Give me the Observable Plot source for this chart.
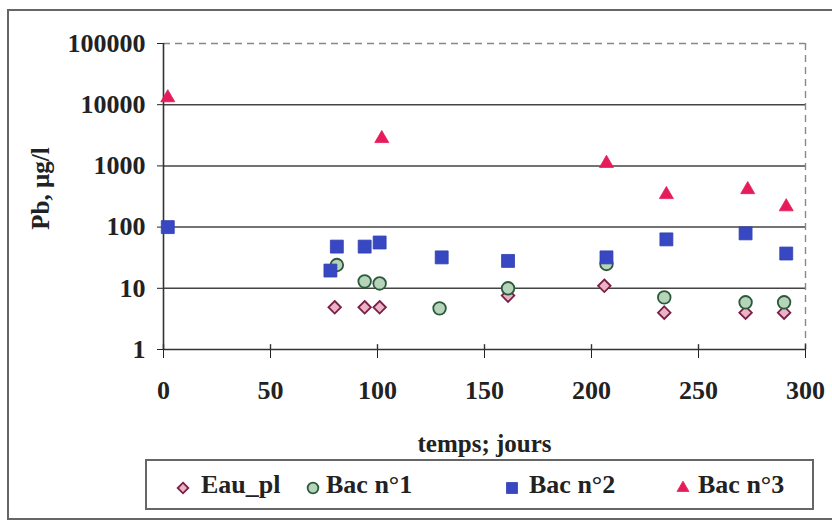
<!DOCTYPE html>
<html>
<head>
<meta charset="utf-8">
<script src="https://cdn.jsdelivr.net/npm/d3@7"></script>
<script src="https://cdn.jsdelivr.net/npm/@observablehq/plot@0.6"></script>
<style>
  html, body { margin: 0; padding: 0; background: #fff; }
  #wrap { position: relative; width: 832px; height: 527px; overflow: hidden; font-family: "Liberation Serif", "Times New Roman", serif; font-weight: bold; color: #222; }
  #frame { position: absolute; left: 7px; top: 9px; width: 840px; height: 511px; border: 2px solid #666; box-sizing: border-box; }
  #legend { position: absolute; left: 145px; top: 459px; width: 669px; height: 51px; border: 2px solid #666; box-sizing: border-box; background: #fff; }
  .item { position: absolute; top: 471px; font-size: 26px; line-height: 28px; white-space: nowrap; }
  .sw { position: absolute; }
  #chart { position: absolute; left: 0; top: 0; }
</style>
</head>
<body>
<div id="wrap">
  <div id="frame"></div>
  <div id="chart"></div>
  <div id="legend"></div>
</div>
<script>
// ---- data ----
const seriesNames = ["Eau_pl", "Bac n°1", "Bac n°2", "Bac n°3"];
const xLabel = "temps; jours";
const yLabel = "Pb, µg/l";

const daysEau = [80, 94, 101, 161, 206, 234, 272, 290];
const valEau  = [4.9, 4.9, 4.9, 7.6, 11, 4.0, 4.0, 4.0];

const daysBac1 = [81, 94, 101, 129, 161, 207, 234, 272, 290];
const valBac1  = [24, 13, 12, 4.7, 10, 25, 7.1, 5.9, 5.9];

const daysBac2 = [2, 78, 81, 94, 101, 130, 161, 207, 235, 272, 291];
const valBac2  = [100, 19.5, 48, 48, 56, 32, 28, 32, 63, 79, 37];

const daysBac3 = [2, 102, 207, 235, 273, 291];
const valBac3  = [13000, 2800, 1100, 340, 410, 215];

const xTicks = [0, 50, 100, 150, 200, 250, 300];
const yTicks = [1, 10, 100, 1000, 10000, 100000];
const yGrid  = [10, 100, 1000, 10000];

// ---- styles ----
const diamond = {
  draw(ctx, size) {
    const s = Math.sqrt(size / 2);
    ctx.moveTo(0, -s); ctx.lineTo(s, 0); ctx.lineTo(0, s); ctx.lineTo(-s, 0); ctx.closePath();
  }
};
const styles = [
  {symbol: diamond, fill: "#eab3c6", stroke: "#7a1f45", strokeWidth: 1.8, r: 5.0},
  {symbol: "circle", fill: "#b6d4ba", stroke: "#2b5a3a", strokeWidth: 1.8, r: 6.3},
  {symbol: "square", fill: "#3848c2", stroke: "#3040b0", strokeWidth: 0.8, r: 7.3},
  {symbol: "triangle", fill: "#e61c5a", stroke: "#e61c5a", strokeWidth: 0.8, r: 5.2}
];

const toRows = (days, vals) => days.map((d, i) => ({x: d, y: vals[i]}));
const rows = [toRows(daysEau, valEau), toRows(daysBac1, valBac1), toRows(daysBac2, valBac2), toRows(daysBac3, valBac3)];

const font = "'Liberation Serif', 'Times New Roman', serif";
const chart = Plot.plot({
  width: 832,
  height: 456,
  marginLeft: 163,
  marginRight: 27,
  marginTop: 43,
  marginBottom: 107,
  style: {fontFamily: font, fontSize: "26px", fontWeight: "bold", background: "transparent", color: "#222", overflow: "visible"},
  x: {domain: [0, 300], ticks: xTicks, tickSize: 9, tickPadding: 22, label: null},
  y: {type: "log", domain: [1, 100000], ticks: yTicks, tickFormat: d => String(d), tickSize: 6, tickPadding: 12, label: null},
  marks: [
    Plot.ruleY(yGrid, {stroke: "#444", strokeWidth: 1.5}),
    Plot.ruleY([100000], {stroke: "#888", strokeWidth: 1.4, strokeDasharray: "7,5"}),
    Plot.ruleX([300], {stroke: "#888", strokeWidth: 1.4, strokeDasharray: "7,5"}),
    Plot.ruleX([0], {stroke: "#333", strokeWidth: 1.6}),
    Plot.ruleY([1], {stroke: "#333", strokeWidth: 1.6}),
    Plot.ruleX(xTicks, {y1: 1, y2: 1.2, stroke: "#333", strokeWidth: 1.4}),
    ...rows.map((r, i) => Plot.dot(r, {x: "x", y: "y", ...styles[i]})),
    Plot.text([xLabel], {frameAnchor: "bottom", lineAnchor: "bottom", dy: 102, fontSize: 25, fill: "#222"}),
    Plot.text([yLabel], {frameAnchor: "left", rotate: -90, textAnchor: "middle", lineAnchor: "top", dx: -132, dy: -8, fontSize: 25, fill: "#222"})
  ]
});
document.getElementById("chart").appendChild(chart);

// ---- legend ----
const wrap = document.getElementById("wrap");
const swX = [183, 313, 512, 683];
const txX = [201, 326, 529, 698];
const symFns = [diamond, d3.symbolCircle, d3.symbolSquare, d3.symbolTriangle];
seriesNames.forEach((name, i) => {
  const st = styles[i];
  const size = Math.PI * st.r * st.r * 0.72;
  const svg = d3.create("svg").attr("class", "sw").attr("width", 20).attr("height", 20)
    .style("left", (swX[i] - 10) + "px").style("top", (488 - 10) + "px");
  svg.append("path").attr("transform", "translate(10,10)")
    .attr("d", d3.symbol(symFns[i], size)())
    .attr("fill", st.fill).attr("stroke", st.stroke).attr("stroke-width", st.strokeWidth);
  wrap.appendChild(svg.node());
  const span = document.createElement("div");
  span.className = "item";
  span.style.left = txX[i] + "px";
  span.textContent = name;
  wrap.appendChild(span);
});
</script>
</body>
</html>
